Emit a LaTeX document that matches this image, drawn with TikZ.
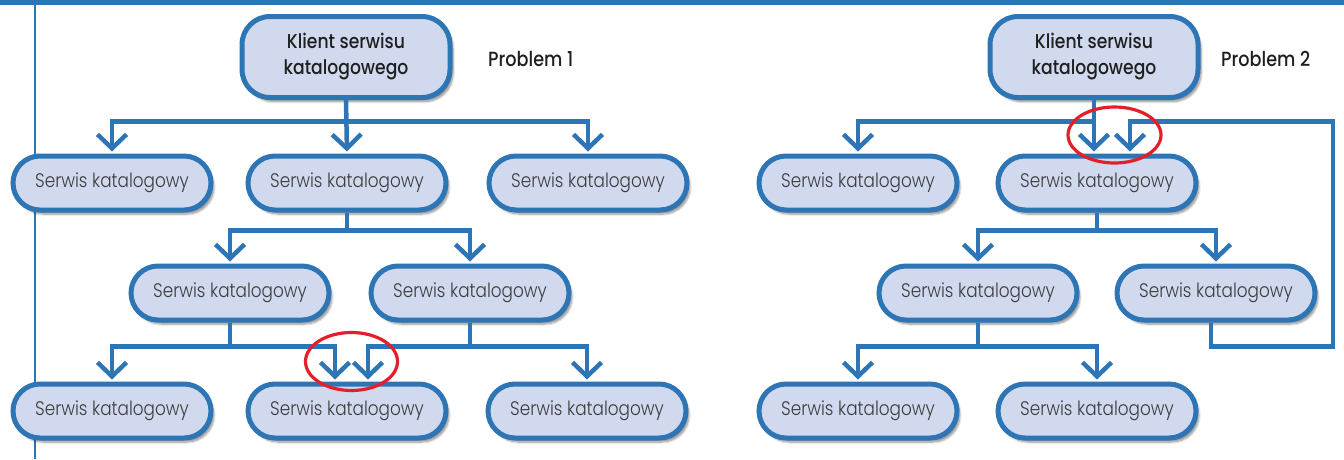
\documentclass[tikz,border=0pt]{standalone}
\usepackage{fontspec}
\setmainfont{Poppins}[UprightFont=* Light, BoldFont=* Medium, FakeStretch=0.86]
\usetikzlibrary{shapes.misc,shapes.geometric,arrows.meta,shadows.blur}
\definecolor{lineblue}{HTML}{2E75B6}
\definecolor{boxfill}{HTML}{D0D9EE}
\definecolor{txtgray}{HTML}{3C3C3C}
\definecolor{markred}{HTML}{E3202A}
\begin{document}
\begin{tikzpicture}[x=1pt,y=-1pt,
  boxshadow/.style={blur shadow={shadow xshift=3pt, shadow yshift=-4pt, shadow blur steps=6, shadow opacity=45}},
  service/.style={rounded rectangle, draw=lineblue, line width=5pt, fill=boxfill,
    minimum width=198pt, minimum height=54pt, inner sep=0pt, text=txtgray,
    font=\fontsize{19.6}{22}\selectfont, boxshadow},
  client/.style={rectangle, rounded corners=28pt, draw=lineblue, line width=5pt, fill=boxfill,
    minimum width=208pt, minimum height=81pt, inner sep=0pt, align=center, text=black!88,
    font=\bfseries\fontsize{20}{26}\selectfont, boxshadow},
  problabel/.style={anchor=west, inner sep=0pt, text=black!88, font=\bfseries\fontsize{20.5}{22}\selectfont},
  link/.style={draw=lineblue, line width=4.5pt, line join=miter},
  arr/.style={link, -{Straight Barb[length=14pt, width=29pt]}, shorten >=2pt},
  ringmark/.style={ellipse, draw=markred, line width=3.2pt, inner sep=0pt}
]
\useasboundingbox (0,0) rectangle (1344,459);
% page frame
\fill[lineblue] (0,0) rectangle (1344,4.7);
\fill[lineblue] (33.5,0) rectangle (36,459);

% ---------- Problem 1 ----------
\node[client] (c1) at (346,57) {Klient serwisu\\katalogowego};
\node[problabel] (p1) at (488,59) {Problem 1};
\node[service] (a1) at (112,183) {Serwis katalogowy};
\node[service] (b1) at (347,183) {Serwis katalogowy};
\node[service] (d1) at (588,183) {Serwis katalogowy};
\node[service] (a2) at (230,293) {Serwis katalogowy};
\node[service] (b2) at (470,293) {Serwis katalogowy};
\node[service] (a3) at (112,411) {Serwis katalogowy};
\node[service] (b3) at (347,411) {Serwis katalogowy};
\node[service] (d3) at (587,411) {Serwis katalogowy};

\coordinate (busA) at (0,121.5);
\coordinate (busB) at (0,230.5);
\coordinate (busC) at (0,346.5);

\draw[arr] (c1.south) -- (c1.south |- busA) -| (a1.north);
\draw[arr] (c1.south |- busA) -| (d1.north);
\draw[arr] (c1.south) -- (b1.north);
\draw[arr] (b1.south) -- (b1.south |- busB) -| (a2.north);
\draw[arr] (b1.south |- busB) -| (b2.north);
\draw[arr] (a2.south) -- (a2.south |- busC) -| (a3.north);
\draw[arr] (a2.south |- busC) -| ([xshift=-12pt]b3.north);
\draw[arr] (b2.south) -- (b2.south |- busC) -| ([xshift=21pt]b3.north);
\draw[arr] (b2.south |- busC) -| (d3.north);

% ---------- Problem 2 ----------
\node[client] (c2) at (1094,57) {Klient serwisu\\katalogowego};
\node[problabel] (p2) at (1221,59) {Problem 2};
\node[service] (e1) at (858,183) {Serwis katalogowy};
\node[service] (f1) at (1097,183) {Serwis katalogowy};
\node[service] (e2) at (978,293) {Serwis katalogowy};
\node[service] (f2) at (1216,293) {Serwis katalogowy};
\node[service] (e3) at (858,411) {Serwis katalogowy};
\node[service] (f3) at (1097,411) {Serwis katalogowy};

\coordinate (loopR) at (1333,0);

\draw[arr] (c2.south) -- (c2.south |- busA) -| (e1.north);
\draw[arr] (c2.south) -- (c2.south |- f1.north);
\draw[arr] ([xshift=-5pt]f2.south) -- ([xshift=-5pt]f2.south |- busC) -| (loopR |- busA) -| ([xshift=33pt]f1.north);
\draw[arr] (f1.south) -- (f1.south |- busB) -| (e2.north);
\draw[arr] (f1.south |- busB) -| (f2.north);
\draw[arr] (e2.south) -- (e2.south |- busC) -| (e3.north);
\draw[arr] (e2.south |- busC) -| (f3.north);

% highlighted double arrivals
\node[ringmark, minimum width=92pt, minimum height=58pt] (r1) at (351.5,361.5) {};
\node[ringmark, minimum width=93pt, minimum height=56pt] (r2) at (1114.5,135) {};
\end{tikzpicture}
\end{document}
